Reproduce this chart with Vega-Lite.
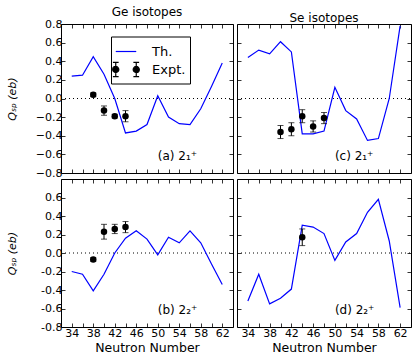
{
  "$schema": "https://vega.github.io/schema/vega-lite/v6.json",
  "padding": {"left": 5, "top": 5, "right": 7, "bottom": 0},
  "datasets": {
    "th": [
      {"panel": "a", "N": 34, "q": 0.24}, {"panel": "a", "N": 36, "q": 0.25}, {"panel": "a", "N": 38, "q": 0.45}, {"panel": "a", "N": 40, "q": 0.26}, {"panel": "a", "N": 42, "q": 0.0}, {"panel": "a", "N": 44, "q": -0.37}, {"panel": "a", "N": 46, "q": -0.35}, {"panel": "a", "N": 48, "q": -0.28}, {"panel": "a", "N": 50, "q": 0.03}, {"panel": "a", "N": 52, "q": -0.2}, {"panel": "a", "N": 54, "q": -0.27}, {"panel": "a", "N": 56, "q": -0.28}, {"panel": "a", "N": 58, "q": -0.11}, {"panel": "a", "N": 60, "q": 0.13}, {"panel": "a", "N": 62, "q": 0.38},
      {"panel": "c", "N": 34, "q": 0.44}, {"panel": "c", "N": 36, "q": 0.52}, {"panel": "c", "N": 38, "q": 0.48}, {"panel": "c", "N": 40, "q": 0.61}, {"panel": "c", "N": 42, "q": 0.5}, {"panel": "c", "N": 44, "q": -0.38}, {"panel": "c", "N": 46, "q": -0.38}, {"panel": "c", "N": 48, "q": -0.35}, {"panel": "c", "N": 50, "q": 0.12}, {"panel": "c", "N": 52, "q": -0.13}, {"panel": "c", "N": 54, "q": -0.22}, {"panel": "c", "N": 56, "q": -0.45}, {"panel": "c", "N": 58, "q": -0.43}, {"panel": "c", "N": 60, "q": 0.0}, {"panel": "c", "N": 62, "q": 0.78},
      {"panel": "b", "N": 34, "q": -0.2}, {"panel": "b", "N": 36, "q": -0.23}, {"panel": "b", "N": 38, "q": -0.41}, {"panel": "b", "N": 40, "q": -0.23}, {"panel": "b", "N": 42, "q": 0.0}, {"panel": "b", "N": 44, "q": 0.16}, {"panel": "b", "N": 46, "q": 0.24}, {"panel": "b", "N": 48, "q": 0.15}, {"panel": "b", "N": 50, "q": -0.02}, {"panel": "b", "N": 52, "q": 0.17}, {"panel": "b", "N": 54, "q": 0.11}, {"panel": "b", "N": 56, "q": 0.24}, {"panel": "b", "N": 58, "q": 0.11}, {"panel": "b", "N": 60, "q": -0.12}, {"panel": "b", "N": 62, "q": -0.34},
      {"panel": "d", "N": 34, "q": -0.52}, {"panel": "d", "N": 36, "q": -0.23}, {"panel": "d", "N": 38, "q": -0.55}, {"panel": "d", "N": 40, "q": -0.49}, {"panel": "d", "N": 42, "q": -0.39}, {"panel": "d", "N": 44, "q": 0.3}, {"panel": "d", "N": 46, "q": 0.28}, {"panel": "d", "N": 48, "q": 0.21}, {"panel": "d", "N": 50, "q": -0.08}, {"panel": "d", "N": 52, "q": 0.12}, {"panel": "d", "N": 54, "q": 0.21}, {"panel": "d", "N": 56, "q": 0.44}, {"panel": "d", "N": 58, "q": 0.58}, {"panel": "d", "N": 60, "q": 0.13}, {"panel": "d", "N": 62, "q": -0.59}
    ],
    "ex": [
      {"panel": "a", "N": 38, "q": 0.04, "err": 0.02}, {"panel": "a", "N": 40, "q": -0.13, "err": 0.05}, {"panel": "a", "N": 42, "q": -0.19, "err": 0.02}, {"panel": "a", "N": 44, "q": -0.19, "err": 0.06},
      {"panel": "c", "N": 40, "q": -0.36, "err": 0.07}, {"panel": "c", "N": 42, "q": -0.33, "err": 0.07}, {"panel": "c", "N": 44, "q": -0.19, "err": 0.07}, {"panel": "c", "N": 46, "q": -0.3, "err": 0.06}, {"panel": "c", "N": 48, "q": -0.21, "err": 0.06},
      {"panel": "b", "N": 38, "q": -0.07, "err": 0.02}, {"panel": "b", "N": 40, "q": 0.23, "err": 0.08}, {"panel": "b", "N": 42, "q": 0.26, "err": 0.05}, {"panel": "b", "N": 44, "q": 0.28, "err": 0.06},
      {"panel": "d", "N": 44, "q": 0.17, "err": 0.09}
    ]
  },
  "columns": 2,
  "spacing": {"row": -14, "column": 2},
  "resolve": {"scale": {"shape": "independent", "fill": "independent", "stroke": "independent"}},
  "concat": [
    {
      "width": 172, "height": 149,
      "title": {"text": "Ge isotopes"},
      "layer": [
        {"data": {"values": [{}]}, "mark": {"type": "rule", "strokeDash": [1, 3], "color": "black", "strokeWidth": 1},
         "encoding": {
           "x": {"datum": 32, "type": "quantitative", "axis": {"orient": "top", "labels": false, "title": null, "values": [34,36,38,40,42,44,46,48,50,52,54,56,58,60,62]}},
           "x2": {"datum": 64},
           "y": {"datum": 0, "type": "quantitative", "axis": {"orient": "right", "labels": false, "title": null, "values": [-0.8,-0.6,-0.4,-0.2,0,0.2,0.4,0.6,0.8]}}
         }},
        {"data": {"name": "th"}, "transform": [{"filter": "datum.panel == 'a'"}],
         "mark": {"type": "line", "color": "#0000ff", "strokeWidth": 1.2, "clip": true},
         "encoding": {
           "x": {"field": "N", "type": "quantitative", "scale": {"domain": [32, 64], "nice": false, "zero": false}, "axis": {"orient": "bottom", "labels": false, "title": null, "values": [34,36,38,40,42,44,46,48,50,52,54,56,58,60,62]}},
           "y": {"field": "q", "type": "quantitative", "scale": {"domain": [-0.8, 0.8], "nice": false, "zero": false}, "axis": {"orient": "left", "format": ".1f", "labelPadding": 3, "title": "Qₛₚ (eb)", "values": [-0.8,-0.6,-0.4,-0.2,0,0.2,0.4,0.6,0.8], "minExtent": 30, "maxExtent": 30}}
         }},
        {"data": {"name": "ex"}, "transform": [{"filter": "datum.panel == 'a'"}],
         "mark": {"type": "errorbar", "color": "black", "thickness": 1, "ticks": {"size": 6, "color": "black"}},
         "encoding": {
           "x": {"field": "N", "type": "quantitative", "axis": null},
           "y": {"field": "q", "type": "quantitative", "axis": null},
           "yError": {"field": "err"}
         }},
        {"data": {"name": "ex"}, "transform": [{"filter": "datum.panel == 'a'"}],
         "mark": {"type": "circle", "color": "black", "size": 42, "opacity": 1},
         "encoding": {
           "x": {"field": "N", "type": "quantitative", "axis": null},
           "y": {"field": "q", "type": "quantitative", "axis": null}
         }},
        {"data": {"values": [{}]}, "mark": {"type": "text", "align": "left", "baseline": "middle", "fontSize": 12, "color": "black"},
         "encoding": {
           "x": {"datum": 50, "type": "quantitative", "axis": null},
           "y": {"datum": -0.62, "type": "quantitative", "axis": null},
           "text": {"value": "(a) 2₁⁺"}
         }},
        {"data": {"values": [{"s": "Th.", "N": 100, "q": 5}, {"s": "Expt.", "N": 100, "q": 5}]},
         "mark": {"type": "point", "filled": true, "opacity": 1, "clip": true},
         "encoding": {
           "x": {"field": "N", "type": "quantitative", "axis": null},
           "y": {"field": "q", "type": "quantitative", "axis": null},
           "shape": {"field": "s", "type": "nominal", "scale": {"domain": ["Th.", "Expt."], "range": ["M-1,0L1,0", "M-1,-0.7L-1,0.7M-1.28,-0.7L-0.72,-0.7M-1.28,0.7L-0.72,0.7M1,-0.7L1,0.7M0.72,-0.7L1.28,-0.7M0.72,0.7L1.28,0.7M-1.3,0A0.3,0.3 0 1,0 -0.7,0A0.3,0.3 0 1,0 -1.3,0ZM0.7,0A0.3,0.3 0 1,0 1.3,0A0.3,0.3 0 1,0 0.7,0Z"]},
             "legend": {"orient": "none", "legendX": 50, "legendY": 12.5, "title": null, "strokeColor": "black", "fillColor": "white", "padding": 4, "labelFontSize": 13, "labelOffset": 15, "symbolSize": 420, "symbolStrokeWidth": 1.2, "rowPadding": 0, "labelColor": "black", "cornerRadius": 0}},
           "fill": {"field": "s", "type": "nominal", "scale": {"domain": ["Th.", "Expt."], "range": ["#0000ff", "black"]}},
           "stroke": {"field": "s", "type": "nominal", "scale": {"domain": ["Th.", "Expt."], "range": ["#0000ff", "black"]}}
         }}
      ],
      "resolve": {"axis": {"x": "independent", "y": "independent"}}
    },
    {
      "width": 174, "height": 149,
      "title": {"text": "Se isotopes"},
      "layer": [
        {"data": {"values": [{}]}, "mark": {"type": "rule", "strokeDash": [1, 3], "color": "black", "strokeWidth": 1},
         "encoding": {
           "x": {"datum": 32, "type": "quantitative", "axis": {"orient": "top", "labels": false, "title": null, "values": [34,36,38,40,42,44,46,48,50,52,54,56,58,60,62]}},
           "x2": {"datum": 64},
           "y": {"datum": 0, "type": "quantitative", "axis": {"orient": "right", "labels": false, "title": null, "values": [-0.8,-0.6,-0.4,-0.2,0,0.2,0.4,0.6,0.8]}}
         }},
        {"data": {"name": "th"}, "transform": [{"filter": "datum.panel == 'c'"}],
         "mark": {"type": "line", "color": "#0000ff", "strokeWidth": 1.2, "clip": true},
         "encoding": {
           "x": {"field": "N", "type": "quantitative", "scale": {"domain": [32, 64], "nice": false, "zero": false}, "axis": {"orient": "bottom", "labels": false, "title": null, "values": [34,36,38,40,42,44,46,48,50,52,54,56,58,60,62]}},
           "y": {"field": "q", "type": "quantitative", "scale": {"domain": [-0.8, 0.8], "nice": false, "zero": false}, "axis": {"orient": "left", "labels": false, "title": null, "values": [-0.8,-0.6,-0.4,-0.2,0,0.2,0.4,0.6,0.8]}}
         }},
        {"data": {"name": "ex"}, "transform": [{"filter": "datum.panel == 'c'"}],
         "mark": {"type": "errorbar", "color": "black", "thickness": 1, "ticks": {"size": 6, "color": "black"}},
         "encoding": {
           "x": {"field": "N", "type": "quantitative", "axis": null},
           "y": {"field": "q", "type": "quantitative", "axis": null},
           "yError": {"field": "err"}
         }},
        {"data": {"name": "ex"}, "transform": [{"filter": "datum.panel == 'c'"}],
         "mark": {"type": "circle", "color": "black", "size": 42, "opacity": 1},
         "encoding": {
           "x": {"field": "N", "type": "quantitative", "axis": null},
           "y": {"field": "q", "type": "quantitative", "axis": null}
         }},
        {"data": {"values": [{}]}, "mark": {"type": "text", "align": "left", "baseline": "middle", "fontSize": 12, "color": "black"},
         "encoding": {
           "x": {"datum": 50, "type": "quantitative", "axis": null},
           "y": {"datum": -0.62, "type": "quantitative", "axis": null},
           "text": {"value": "(c) 2₁⁺"}
         }}
      ],
      "resolve": {"axis": {"x": "independent", "y": "independent"}}
    },
    {
      "width": 172, "height": 148,
      "layer": [
        {"data": {"values": [{}]}, "mark": {"type": "rule", "strokeDash": [1, 3], "color": "black", "strokeWidth": 1},
         "encoding": {
           "x": {"datum": 32, "type": "quantitative", "axis": {"orient": "top", "labels": false, "title": null, "values": [34,36,38,40,42,44,46,48,50,52,54,56,58,60,62]}},
           "x2": {"datum": 64},
           "y": {"datum": 0, "type": "quantitative", "axis": {"orient": "right", "labels": false, "title": null, "values": [-0.8,-0.6,-0.4,-0.2,0,0.2,0.4,0.6,0.8]}}
         }},
        {"data": {"name": "th"}, "transform": [{"filter": "datum.panel == 'b'"}],
         "mark": {"type": "line", "color": "#0000ff", "strokeWidth": 1.2, "clip": true},
         "encoding": {
           "x": {"field": "N", "type": "quantitative", "scale": {"domain": [32, 64], "nice": false, "zero": false}, "axis": {"orient": "bottom", "title": "Neutron Number", "labelPadding": 4, "titlePadding": 3, "labelExpr": "datum.value % 4 == 2 ? datum.label : ''", "values": [34,36,38,40,42,44,46,48,50,52,54,56,58,60,62]}},
           "y": {"field": "q", "type": "quantitative", "scale": {"domain": [-0.8, 0.8], "nice": false, "zero": false}, "axis": {"orient": "left", "format": ".1f", "labelPadding": 3, "title": "Qₛₚ (eb)", "labelExpr": "datum.value > 0.7 ? '' : replace(datum.label, '−', '-')", "values": [-0.8,-0.6,-0.4,-0.2,0,0.2,0.4,0.6,0.8], "minExtent": 30, "maxExtent": 30}}
         }},
        {"data": {"name": "ex"}, "transform": [{"filter": "datum.panel == 'b'"}],
         "mark": {"type": "errorbar", "color": "black", "thickness": 1, "ticks": {"size": 6, "color": "black"}},
         "encoding": {
           "x": {"field": "N", "type": "quantitative", "axis": null},
           "y": {"field": "q", "type": "quantitative", "axis": null},
           "yError": {"field": "err"}
         }},
        {"data": {"name": "ex"}, "transform": [{"filter": "datum.panel == 'b'"}],
         "mark": {"type": "circle", "color": "black", "size": 42, "opacity": 1},
         "encoding": {
           "x": {"field": "N", "type": "quantitative", "axis": null},
           "y": {"field": "q", "type": "quantitative", "axis": null}
         }},
        {"data": {"values": [{}]}, "mark": {"type": "text", "align": "left", "baseline": "middle", "fontSize": 12, "color": "black"},
         "encoding": {
           "x": {"datum": 50, "type": "quantitative", "axis": null},
           "y": {"datum": -0.62, "type": "quantitative", "axis": null},
           "text": {"value": "(b) 2₂⁺"}
         }}
      ],
      "resolve": {"axis": {"x": "independent", "y": "independent"}}
    },
    {
      "width": 174, "height": 148,
      "layer": [
        {"data": {"values": [{}]}, "mark": {"type": "rule", "strokeDash": [1, 3], "color": "black", "strokeWidth": 1},
         "encoding": {
           "x": {"datum": 32, "type": "quantitative", "axis": {"orient": "top", "labels": false, "title": null, "values": [34,36,38,40,42,44,46,48,50,52,54,56,58,60,62]}},
           "x2": {"datum": 64},
           "y": {"datum": 0, "type": "quantitative", "axis": {"orient": "right", "labels": false, "title": null, "values": [-0.8,-0.6,-0.4,-0.2,0,0.2,0.4,0.6,0.8]}}
         }},
        {"data": {"name": "th"}, "transform": [{"filter": "datum.panel == 'd'"}],
         "mark": {"type": "line", "color": "#0000ff", "strokeWidth": 1.2, "clip": true},
         "encoding": {
           "x": {"field": "N", "type": "quantitative", "scale": {"domain": [32, 64], "nice": false, "zero": false}, "axis": {"orient": "bottom", "title": "Neutron Number", "labelPadding": 4, "titlePadding": 3, "labelExpr": "datum.value % 4 == 2 ? datum.label : ''", "values": [34,36,38,40,42,44,46,48,50,52,54,56,58,60,62]}},
           "y": {"field": "q", "type": "quantitative", "scale": {"domain": [-0.8, 0.8], "nice": false, "zero": false}, "axis": {"orient": "left", "labels": false, "title": null, "values": [-0.8,-0.6,-0.4,-0.2,0,0.2,0.4,0.6,0.8]}}
         }},
        {"data": {"name": "ex"}, "transform": [{"filter": "datum.panel == 'd'"}],
         "mark": {"type": "errorbar", "color": "black", "thickness": 1, "ticks": {"size": 6, "color": "black"}},
         "encoding": {
           "x": {"field": "N", "type": "quantitative", "axis": null},
           "y": {"field": "q", "type": "quantitative", "axis": null},
           "yError": {"field": "err"}
         }},
        {"data": {"name": "ex"}, "transform": [{"filter": "datum.panel == 'd'"}],
         "mark": {"type": "circle", "color": "black", "size": 42, "opacity": 1},
         "encoding": {
           "x": {"field": "N", "type": "quantitative", "axis": null},
           "y": {"field": "q", "type": "quantitative", "axis": null}
         }},
        {"data": {"values": [{}]}, "mark": {"type": "text", "align": "left", "baseline": "middle", "fontSize": 12, "color": "black"},
         "encoding": {
           "x": {"datum": 50, "type": "quantitative", "axis": null},
           "y": {"datum": -0.62, "type": "quantitative", "axis": null},
           "text": {"value": "(d) 2₂⁺"}
         }}
      ],
      "resolve": {"axis": {"x": "independent", "y": "independent"}}
    }
  ],
  "config": {
    "font": "DejaVu Sans",
    "background": "white",
    "view": {"stroke": "black", "strokeWidth": 1},
    "axis": {"domain": false, "grid": false, "tickColor": "black", "tickSize": -4, "tickWidth": 0.8, "labelPadding": 7, "labelFontSize": 11, "labelColor": "black", "titleFontSize": 12, "titleFontWeight": "normal", "titleColor": "black", "labelFlush": false, "labelOverlap": false},
    "axisY": {"titleFontStyle": "italic", "titlePadding": 14, "titleFontSize": 11},
    "axisX": {"titlePadding": 3, "titleFontSize": 12.5},
    "title": {"fontSize": 12, "fontWeight": "normal", "offset": -1, "color": "black", "font": "DejaVu Sans"}
  }
}
